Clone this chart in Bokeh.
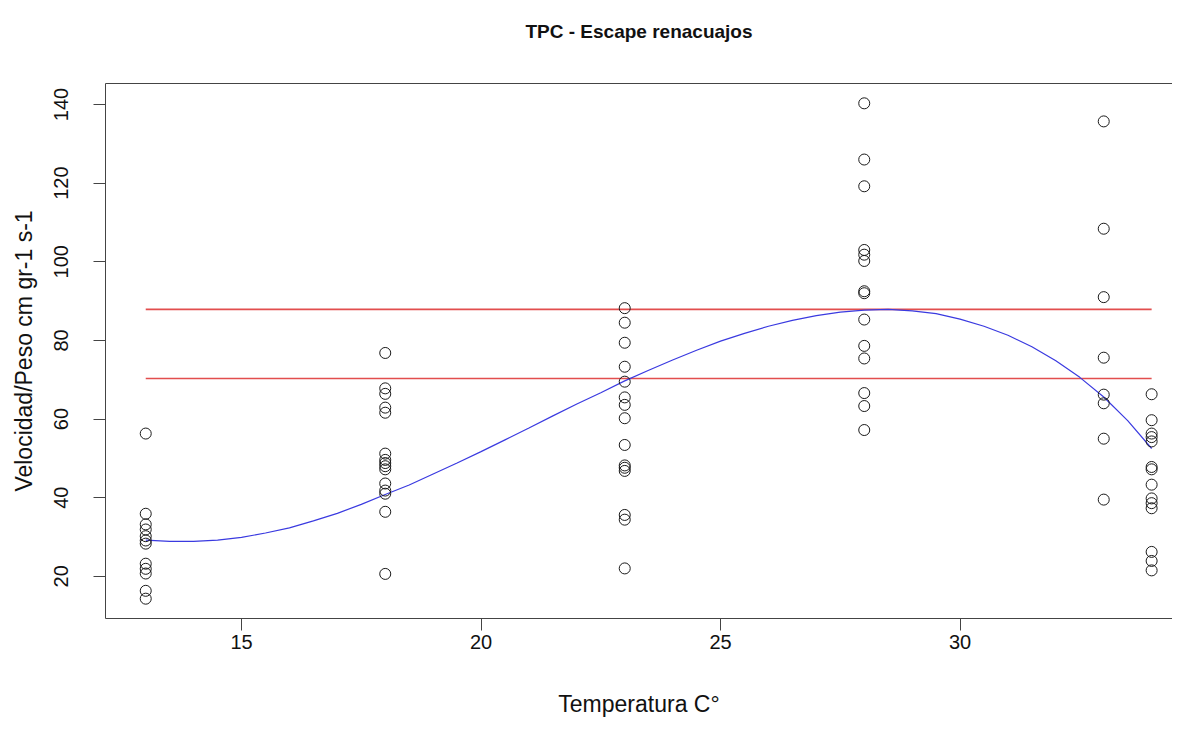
from bokeh.plotting import figure
from bokeh.models import Range1d, LinearAxis, FixedTicker, ColumnDataSource
from bokeh.embed import file_html
from bokeh.resources import INLINE

# ---- data ----
temps = [13, 18, 23, 28, 33, 34]
vel_13 = [56.3, 35.9, 33.2, 31.9, 30.2, 29.1, 28.3, 23.2, 21.9, 20.7, 16.3, 14.3]
vel_18 = [76.8, 67.8, 66.4, 62.9, 61.6, 51.2, 49.6, 48.8, 48.0, 47.2, 43.6, 41.8, 41.0, 36.4, 20.6]
vel_23 = [88.2, 84.5, 79.4, 73.3, 69.5, 65.5, 63.6, 60.2, 53.4, 48.2, 47.6, 46.8, 35.6, 34.4, 22.0]
vel_28 = [140.3, 126.0, 119.2, 103.0, 101.8, 100.2, 92.5, 92.0, 85.3, 78.6, 75.4, 66.6, 63.3, 57.2]
vel_33 = [135.7, 108.4, 91.0, 75.6, 66.2, 64.0, 55.0, 39.5]
vel_34 = [66.3, 59.7, 56.3, 55.4, 54.3, 47.8, 47.2, 43.3, 39.8, 38.6, 37.3, 26.2, 23.9, 21.5]
groups = [vel_13, vel_18, vel_23, vel_28, vel_33, vel_34]

# fitted curve
curve_x = [13, 13.5, 14, 14.5, 15, 15.5, 16, 16.5, 17, 17.5, 18, 18.5, 19, 19.5, 20, 20.5, 21, 21.5,
           22, 22.5, 23, 23.5, 24, 24.5, 25, 25.5, 26, 26.5, 27, 27.5, 28, 28.5, 29, 29.5, 30, 30.5,
           31, 31.5, 32, 32.5, 33, 33.5, 34]
curve_y = [29.2, 28.9, 28.9, 29.2, 29.9, 31.0, 32.3, 34.1, 36.0, 38.3, 40.8, 43.2, 46.0, 48.8, 51.7,
           54.7, 57.7, 60.8, 63.8, 66.7, 69.7, 72.4, 75.0, 77.5, 79.8, 81.8, 83.6, 85.1, 86.3, 87.2,
           87.7, 87.9, 87.5, 86.8, 85.4, 83.6, 81.3, 78.4, 74.8, 70.6, 65.6, 59.6, 52.5]

# horizontal reference lines (max of curve and 80 % of it)
ref_levels = [87.9, 70.3]

x_ticks = [15, 20, 25, 30]
y_ticks = [20, 40, 60, 80, 100, 120, 140]

title_text = "TPC - Escape renacuajos"
x_label = "Temperatura C\u00b0"
y_label = "Velocidad/Peso cm gr-1 s-1"

# ---- build ----
xs, ys = [], []
for t, g in zip(temps, groups):
    xs += [t] * len(g)
    ys += g
pts = ColumnDataSource(dict(x=xs, y=ys))

FONT = "Liberation Sans"
W, H = 1172, 725
LEFT, TOP, BOTTOM = 105, 83, 107
X0, PX_PER_X = 12.16, 47.9
Y0, Y1 = 9.26, 145.34
x_end = X0 + (W - LEFT) / PX_PER_X

p = figure(width=W, height=H, output_backend="svg", toolbar_location=None,
           x_range=Range1d(X0, x_end), y_range=Range1d(Y0, Y1),
           min_border_left=LEFT, min_border_right=0, min_border_top=TOP, min_border_bottom=BOTTOM,
           background_fill_color="white", border_fill_color="white",
           outline_line_color=None)
p.grid.visible = False

bottom = p.below[0]
left = p.left[0]
for ax in (bottom, left):
    ax.axis_line_color = "#444444"
    ax.major_tick_line_color = "#444444"
    ax.minor_tick_line_color = None
    ax.major_tick_out = 12
    ax.major_tick_in = 0
    ax.major_label_text_font = FONT
    ax.major_label_text_font_size = "20px"
    ax.major_label_text_color = "#111111"
    ax.axis_label_text_font = FONT
    ax.axis_label_text_font_size = "23px"
    ax.axis_label_text_font_style = "normal"
    ax.axis_label_text_color = "#111111"

bottom.ticker = FixedTicker(ticks=x_ticks)
left.ticker = FixedTicker(ticks=y_ticks)
bottom.axis_label = x_label
left.axis_label = y_label
bottom.major_label_standoff = 4
bottom.axis_label_standoff = 39
left.major_label_orientation = "parallel"
left.major_label_standoff = 25
left.axis_label_standoff = 15

# top border line of the box, carrying the main title
top = LinearAxis(ticker=FixedTicker(ticks=[]), major_label_text_font_size="0px",
                 axis_line_color="#444444", major_tick_line_color=None,
                 minor_tick_line_color=None, major_tick_out=0, major_tick_in=0,
                 major_label_standoff=0, axis_label=title_text, axis_label_standoff=42,
                 axis_label_text_font=FONT, axis_label_text_font_size="19px",
                 axis_label_text_font_style="bold", axis_label_text_color="#111111")
p.add_layout(top, "above")

# reference lines
p.segment(x0=[min(temps)] * len(ref_levels), x1=[max(temps)] * len(ref_levels),
          y0=ref_levels, y1=ref_levels, line_color="#E24E4E", line_width=1.6)

# fitted curve
p.line(curve_x, curve_y, line_color="#3A3AE0", line_width=1.2)

# points
p.scatter("x", "y", source=pts, marker="circle", size=11, fill_color=None,
          line_color="#1a1a1a", line_width=1)

open("out.html", "w").write(file_html(p, INLINE))
